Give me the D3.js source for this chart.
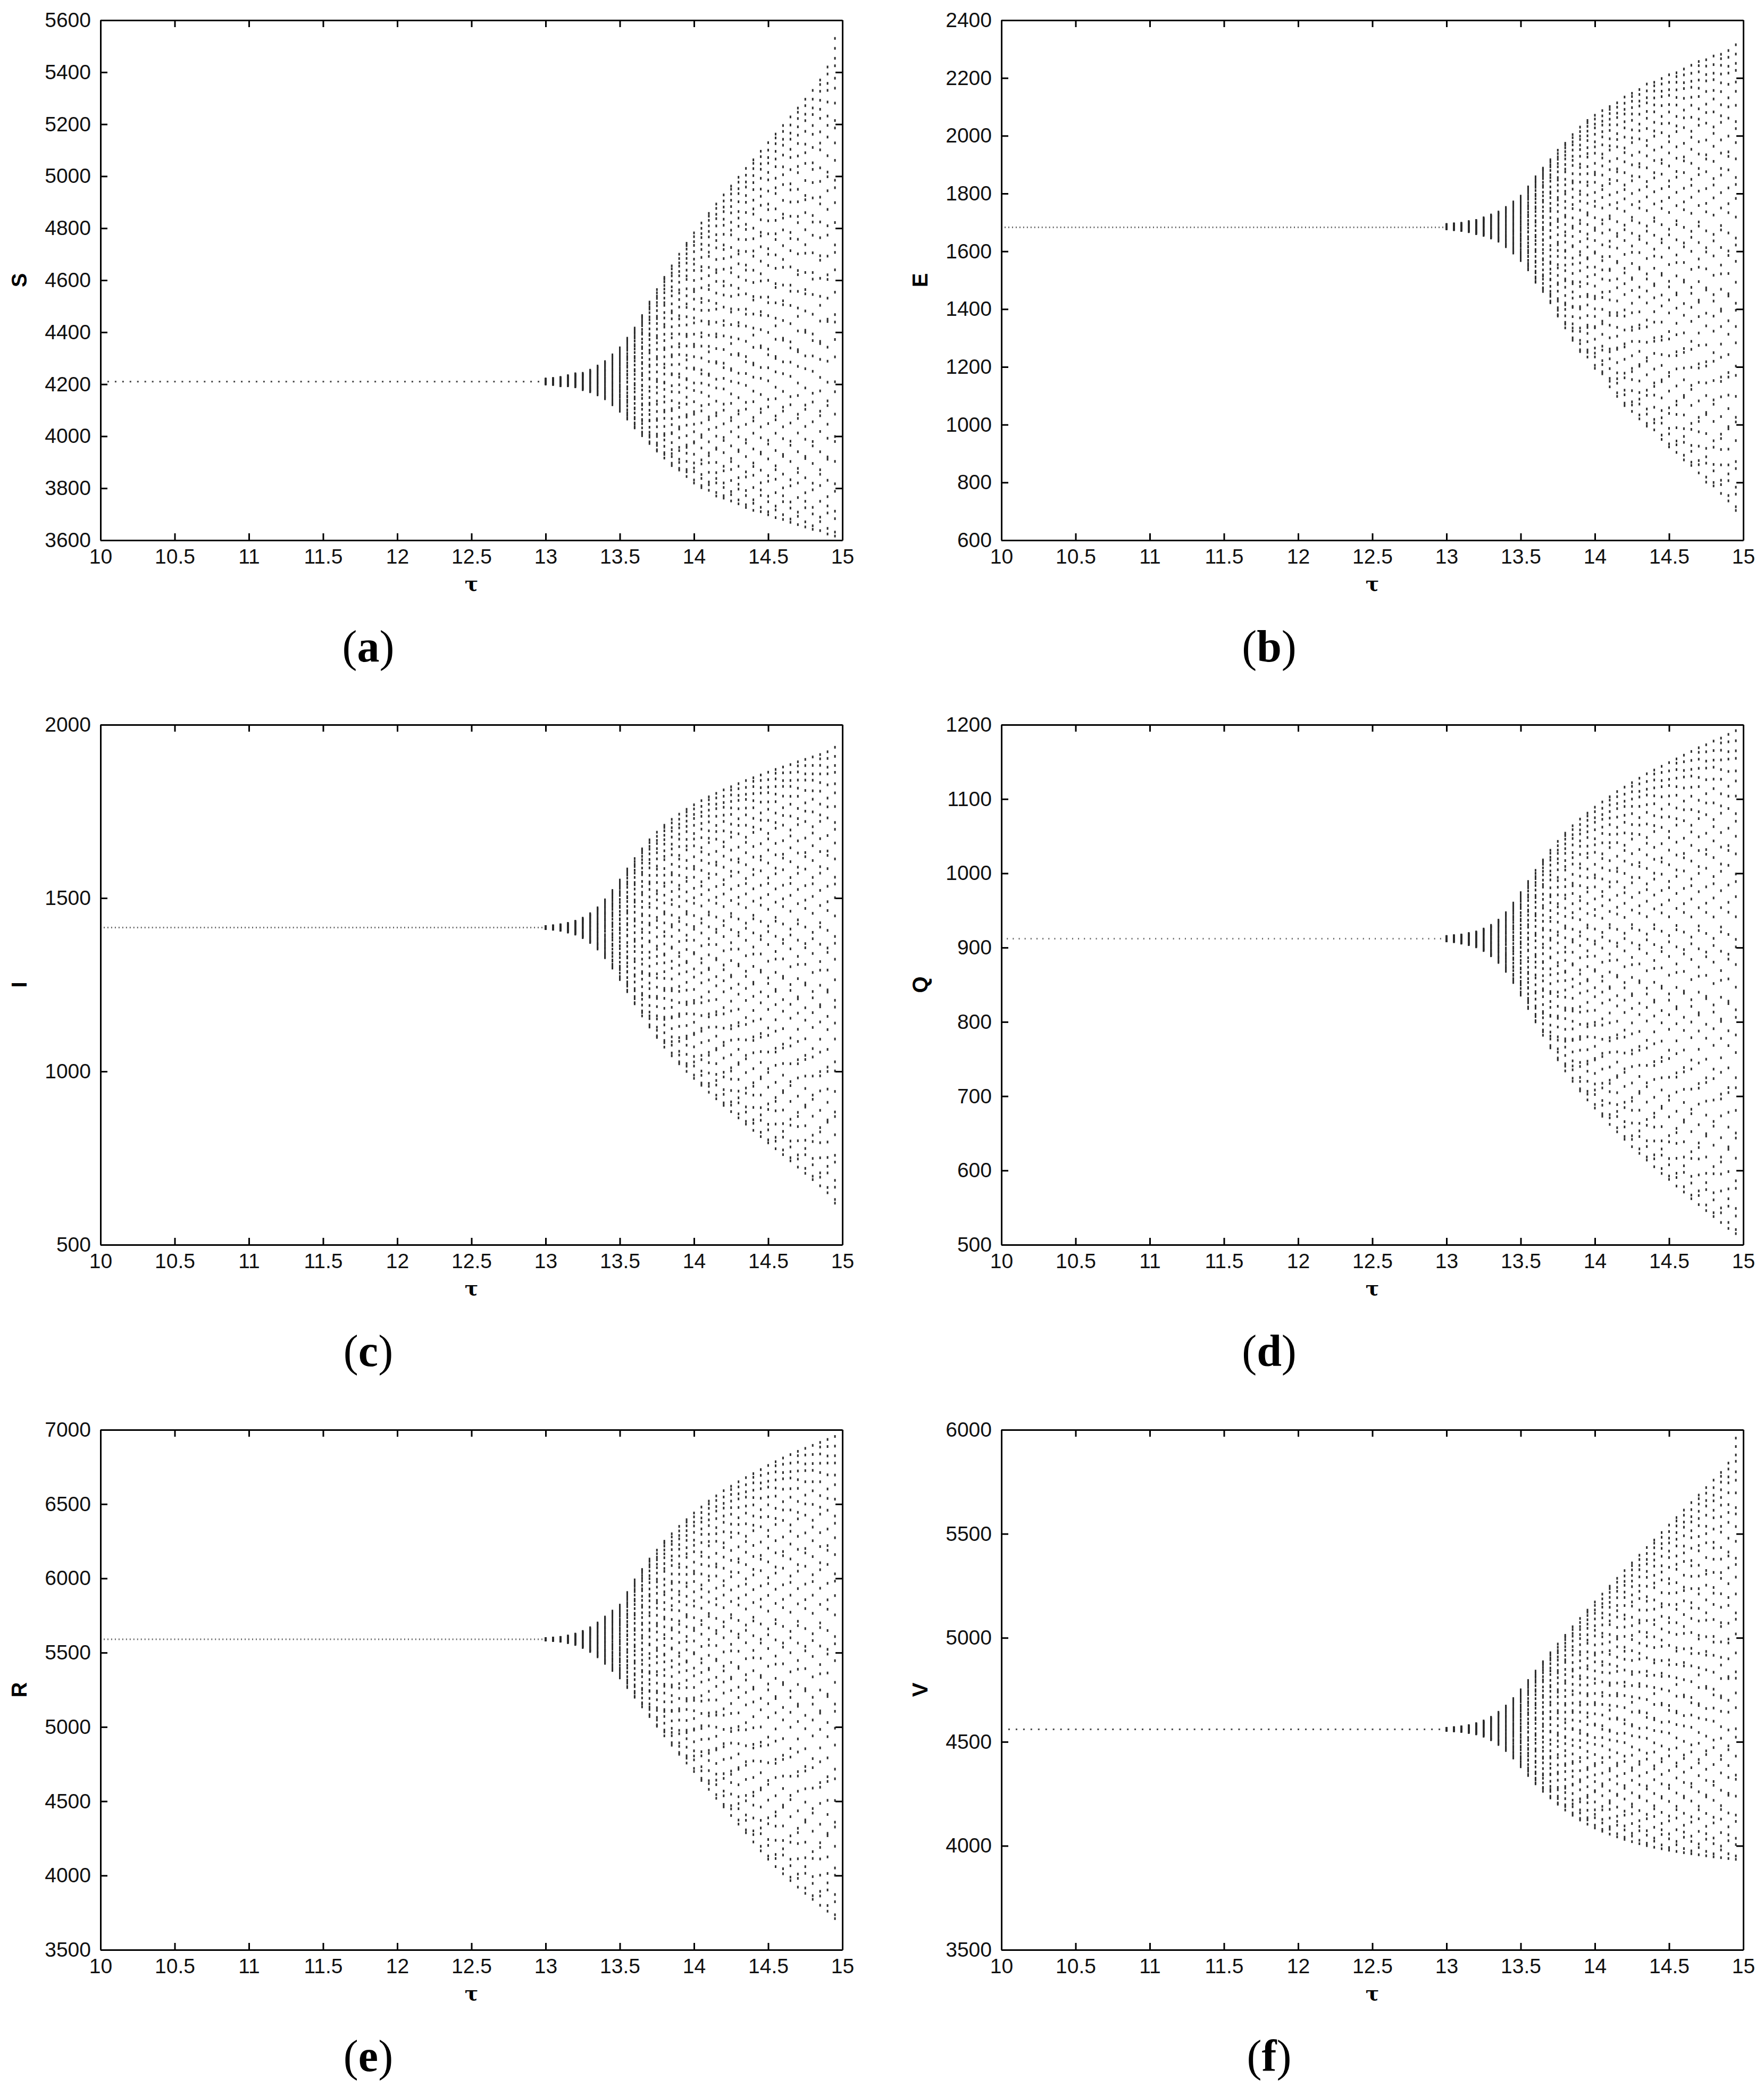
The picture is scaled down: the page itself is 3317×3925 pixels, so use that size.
<!DOCTYPE html>
<html>
<head>
<meta charset="utf-8">
<script src="https://cdn.jsdelivr.net/npm/d3@7"></script>
<style>
  body { margin: 0; background: #fff; }
  svg { display: block; }
</style>
</head>
<body>
<div id="chart"></div>
<script>
// ---- data ----
const panelLetters = ["a", "b", "c", "d", "e", "f"];
const varNames = ["S", "E", "I", "Q", "R", "V"];
const yDomains = [[3600, 5600], [600, 2400], [500, 2000], [500, 1200], [3500, 7000], [3500, 6000]];
const yTickLists = [
  [3600, 3800, 4000, 4200, 4400, 4600, 4800, 5000, 5200, 5400, 5600],
  [600, 800, 1000, 1200, 1400, 1600, 1800, 2000, 2200, 2400],
  [500, 1000, 1500, 2000],
  [500, 600, 700, 800, 900, 1000, 1100, 1200],
  [3500, 4000, 4500, 5000, 5500, 6000, 6500, 7000],
  [3500, 4000, 4500, 5000, 5500, 6000]
];
const tauTicks = [10, 10.5, 11, 11.5, 12, 12.5, 13, 13.5, 14, 14.5, 15];

// equilibrium value for every panel (flat branch before the Hopf point)
const equilibria = [4210, 1683, 1415, 912, 5590, 4560];
// tau step of the flat branch in each panel (finer in b-e)
const flatSteps = [0.05, 0.025, 0.025, 0.04, 0.025, 0.05];

// tau grid in the oscillating region
const burstTaus = [13.00, 13.05, 13.10, 13.15, 13.20, 13.25, 13.30, 13.35, 13.40, 13.45,
  13.50, 13.55, 13.60, 13.65, 13.70, 13.75, 13.80, 13.85, 13.90, 13.95,
  14.00, 14.05, 14.10, 14.15, 14.20, 14.25, 14.30, 14.35, 14.40, 14.45,
  14.50, 14.55, 14.60, 14.65, 14.70, 14.75, 14.80, 14.85, 14.90, 14.95];

// upper / lower edge of each oscillation column
const sUpper = [4220, 4222, 4226, 4233, 4240, 4242, 4254, 4270, 4287, 4313,
  4340, 4377, 4416, 4464, 4516, 4564, 4611, 4655, 4700, 4742,
  4782, 4820, 4857, 4893, 4928, 4962, 4996, 5030, 5063, 5096,
  5129, 5162, 5195, 5228, 5262, 5296, 5330, 5370, 5420, 5530];
const sLower = [4201, 4199, 4194, 4194, 4190, 4179, 4171, 4159, 4144, 4121,
  4096, 4066, 4032, 4002, 3972, 3943, 3916, 3887, 3870, 3845,
  3820, 3802, 3792, 3770, 3762, 3751, 3740, 3726, 3715, 3710,
  3698, 3687, 3680, 3669, 3660, 3651, 3642, 3637, 3624, 3616];

const eUpper = [1693, 1695, 1697, 1703, 1707, 1716, 1726, 1736, 1752, 1771,
  1791, 1823, 1858, 1888, 1917, 1950, 1974, 2004, 2030, 2053,
  2071, 2087, 2101, 2114, 2134, 2147, 2160, 2179, 2185, 2198,
  2211, 2218, 2231, 2244, 2257, 2263, 2276, 2282, 2295, 2315];
const eLower = [1678, 1675, 1672, 1668, 1661, 1655, 1646, 1635, 1616, 1594,
  1568, 1536, 1493, 1461, 1422, 1376, 1335, 1292, 1253, 1234,
  1195, 1176, 1131, 1098, 1066, 1046, 1020, 995, 982, 949,
  923, 904, 878, 859, 833, 801, 788, 762, 736, 703];

const iUpper = [1418, 1420, 1423, 1427, 1433, 1442, 1455, 1472, 1495, 1522,
  1552, 1584, 1614, 1642, 1668, 1690, 1710, 1727, 1742, 1756,
  1769, 1781, 1792, 1802, 1812, 1821, 1830, 1839, 1847, 1855,
  1863, 1871, 1878, 1885, 1893, 1900, 1907, 1914, 1922, 1935];
const iLower = [1412, 1410, 1407, 1402, 1396, 1386, 1372, 1353, 1328, 1298,
  1265, 1230, 1195, 1160, 1128, 1098, 1070, 1045, 1022, 1000,
  980, 960, 940, 921, 902, 884, 866, 848, 830, 812,
  794, 777, 760, 742, 724, 706, 688, 670, 650, 620];

const qUpper = [915, 916, 917, 919, 921, 925, 930, 937, 947, 960,
  974, 989, 1004, 1018, 1031, 1043, 1054, 1064, 1073, 1081,
  1089, 1096, 1103, 1110, 1116, 1122, 1128, 1134, 1139, 1144,
  1149, 1154, 1159, 1164, 1169, 1173, 1178, 1182, 1187, 1192];
const qLower = [909, 908, 906, 904, 901, 896, 889, 880, 868, 853,
  836, 818, 800, 782, 765, 749, 734, 720, 707, 695,
  684, 673, 662, 652, 642, 632, 623, 614, 605, 596,
  588, 579, 571, 562, 554, 546, 538, 530, 522, 515];

const rUpper = [5595, 5598, 5603, 5612, 5625, 5643, 5668, 5700, 5740, 5780,
  5820, 5905, 5990, 6060, 6130, 6190, 6250, 6300, 6350, 6395,
  6440, 6480, 6520, 6555, 6590, 6620, 6650, 6678, 6705, 6732,
  6760, 6785, 6810, 6833, 6855, 6875, 6895, 6915, 6935, 6955];
const rLower = [5585, 5582, 5577, 5568, 5555, 5535, 5508, 5472, 5428, 5380,
  5330, 5265, 5200, 5135, 5070, 5005, 4940, 4877, 4816, 4757,
  4700, 4640, 4580, 4520, 4462, 4404, 4346, 4288, 4226, 4166,
  4110, 4060, 4012, 3966, 3922, 3880, 3840, 3800, 3760, 3710];

const vUpper = [4565, 4568, 4572, 4578, 4587, 4600, 4618, 4642, 4672, 4708,
  4750, 4795, 4840, 4885, 4928, 4970, 5012, 5053, 5093, 5133,
  5172, 5210, 5248, 5286, 5323, 5360, 5397, 5434, 5470, 5506,
  5542, 5578, 5614, 5650, 5686, 5722, 5758, 5795, 5840, 5960];
const vLower = [4555, 4553, 4550, 4545, 4538, 4527, 4510, 4487, 4458, 4422,
  4380, 4338, 4298, 4262, 4230, 4200, 4172, 4147, 4124, 4104,
  4086, 4070, 4056, 4043, 4031, 4020, 4010, 4001, 3993, 3986,
  3979, 3973, 3967, 3962, 3957, 3952, 3947, 3943, 3939, 3935];

const uppers = [sUpper, eUpper, iUpper, qUpper, rUpper, vUpper];
const lowers = [sLower, eLower, iLower, qLower, rLower, vLower];

// where the sampled orbit points sit inside a column (0 = lower edge, 1 = upper edge)
const orbitFracA = [0, 0.008, 0.035, 0.05, 0.09, 0.105, 0.15, 0.19, 0.2, 0.245,
  0.29, 0.31, 0.36, 0.395, 0.43, 0.445, 0.49, 0.535, 0.57, 0.585,
  0.63, 0.67, 0.7, 0.715, 0.755, 0.79, 0.82, 0.835, 0.87, 0.9,
  0.92, 0.945, 0.96, 0.98, 1];
const orbitFracB = [0, 0.02, 0.03, 0.065, 0.1, 0.125, 0.135, 0.175, 0.22, 0.255,
  0.265, 0.31, 0.34, 0.38, 0.415, 0.42, 0.465, 0.5, 0.52, 0.56,
  0.6, 0.61, 0.65, 0.685, 0.725, 0.74, 0.775, 0.805, 0.845, 0.86,
  0.885, 0.915, 0.935, 0.955, 0.975, 0.99, 1];
const orbitFracC = [0, 0.012, 0.045, 0.06, 0.08, 0.115, 0.16, 0.165, 0.205, 0.235,
  0.275, 0.285, 0.325, 0.37, 0.4, 0.455, 0.46, 0.505, 0.545, 0.555,
  0.595, 0.64, 0.66, 0.695, 0.735, 0.765, 0.775, 0.81, 0.85, 0.875,
  0.895, 0.925, 0.95, 0.965, 0.985, 1];
const orbitFracs = [orbitFracA, orbitFracB, orbitFracC];

// ---- layout ----
const W = 3317, H = 3925;
const plotW = 1395, plotH = 978;
const colX = [189, 1883];
const rowY = [38, 1363, 2689];

const svg = d3.select("#chart")
  .append("svg")
  .attr("width", W)
  .attr("height", H)
  .style("font-family", "'Liberation Sans', Arial, sans-serif");

svg.append("rect").attr("width", W).attr("height", H).attr("fill", "#fff");

const fmtTau = d => String(d);

panelLetters.forEach((letter, i) => {
  const left = colX[i % 2];
  const top = rowY[Math.floor(i / 2)];

  const x = d3.scaleLinear().domain([10, 15]).range([0, plotW]);
  const y = d3.scaleLinear().domain(yDomains[i]).range([plotH, 0]);

  const g = svg.append("g").attr("transform", `translate(${left},${top})`);

  // points: flat branch, then oscillation columns
  const flatTaus = d3.range(10, 12.999, flatSteps[i]);
  const flatPts = flatTaus.map(t => [t, equilibria[i]]);
  const burstPts = [];
  burstTaus.forEach((t, k) => {
    const lo = lowers[i][k], hi = uppers[i][k];
    orbitFracs[k % 3].forEach(f => burstPts.push([t, lo + f * (hi - lo)]));
  });

  const fine = flatSteps[i] < 0.05;
  g.append("g")
    .selectAll("rect")
    .data(flatPts)
    .join("rect")
    .attr("x", d => x(d[0]) - 1)
    .attr("y", d => y(d[1]) - 1.5)
    .attr("width", fine ? 2 : 3)
    .attr("height", 3)
    .attr("fill", fine ? "#666" : "#444");

  g.append("g")
    .selectAll("rect")
    .data(burstPts)
    .join("rect")
    .attr("x", d => x(d[0]) - 1.5)
    .attr("y", d => y(d[1]) - 2.5)
    .attr("width", 3)
    .attr("height", 5)
    .attr("fill", "#2b2b2b");

  // axes (box, ticks pointing in)
  const styleAxis = sel => {
    sel.selectAll("path.domain").attr("stroke", "#000").attr("stroke-width", 3);
    sel.selectAll(".tick line").attr("stroke", "#000").attr("stroke-width", 3);
    sel.selectAll(".tick text")
      .attr("fill", "#111")
      .style("font-size", "39px")
      .style("font-family", "'Liberation Sans', Arial, sans-serif");
  };

  g.append("g")
    .attr("transform", `translate(0,${plotH})`)
    .call(d3.axisBottom(x).tickValues(tauTicks).tickFormat(fmtTau)
      .tickSizeInner(-13).tickSizeOuter(0).tickPadding(16))
    .call(styleAxis);

  g.append("g")
    .call(d3.axisTop(x).tickValues(tauTicks).tickFormat("")
      .tickSizeInner(-13).tickSizeOuter(0))
    .call(styleAxis);

  g.append("g")
    .call(d3.axisLeft(y).tickValues(yTickLists[i]).tickFormat(d3.format("d"))
      .tickSizeInner(-13).tickSizeOuter(0).tickPadding(18))
    .call(styleAxis);

  g.append("g")
    .attr("transform", `translate(${plotW},0)`)
    .call(d3.axisRight(y).tickValues(yTickLists[i]).tickFormat("")
      .tickSizeInner(-13).tickSizeOuter(0))
    .call(styleAxis);

  // axis labels
  g.append("text")
    .attr("transform", `translate(-153,${plotH / 2}) rotate(-90)`)
    .attr("text-anchor", "middle")
    .attr("dy", "0.35em")
    .style("font-size", "40px")
    .style("font-weight", "bold")
    .text(varNames[i]);

  g.append("text")
    .attr("x", plotW / 2)
    .attr("y", plotH + 95)
    .attr("text-anchor", "middle")
    .style("font-size", "38px")
    .style("font-weight", "bold")
    .style("font-family", "'DejaVu Serif', 'Liberation Serif', serif")
    .text("τ");

  // panel letter
  const lab = g.append("text")
    .attr("x", plotW / 2 - 194)
    .attr("y", plotH + 228)
    .attr("text-anchor", "middle")
    .style("font-size", "84px")
    .style("font-family", "'Liberation Serif', 'Times New Roman', serif");
  lab.append("tspan").text("(");
  lab.append("tspan").style("font-weight", "bold").text(letter);
  lab.append("tspan").text(")");
});
</script>
</body>
</html>
